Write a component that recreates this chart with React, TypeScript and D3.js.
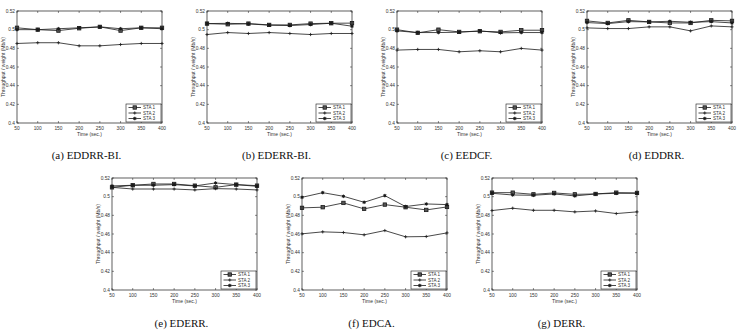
import React from "react";
import * as d3 from "d3";

// Shared axes
const TIMES = [50, 100, 150, 200, 250, 300, 350, 400];
const Y_TICKS = [0.4, 0.42, 0.44, 0.46, 0.48, 0.5, 0.52];
const Y_TICK_LABELS = ["0.4", "0.42", "0.44", "0.46", "0.48", "0.5", "0.52"];
const X_TICK_LABELS = ["50", "100", "150", "200", "250", "300", "350", "400"];
const STATIONS = ["STA 1", "STA 2", "STA 3"];

// Throughput / weight (Mb/s) per scheme
const eddrrBiSta1 = [0.502, 0.5, 0.499, 0.5015, 0.503, 0.499, 0.502, 0.502];
const eddrrBiSta2 = [0.4852, 0.486, 0.486, 0.4827, 0.4827, 0.4841, 0.4852, 0.4852];
const eddrrBiSta3 = [0.5, 0.5, 0.501, 0.502, 0.503, 0.501, 0.502, 0.501];

const ederrBiSta1 = [0.5065, 0.5058, 0.5065, 0.5051, 0.5051, 0.5065, 0.5069, 0.507];
const ederrBiSta2 = [0.4948, 0.4969, 0.4959, 0.4969, 0.4959, 0.4948, 0.4959, 0.4959];
const ederrBiSta3 = [0.5065, 0.5068, 0.5062, 0.5048, 0.5044, 0.5055, 0.5069, 0.5037];

const eedcfSta1 = [0.5, 0.4966, 0.5, 0.4976, 0.4983, 0.4976, 0.4994, 0.4994];
const eedcfSta2 = [0.4781, 0.4788, 0.4788, 0.4763, 0.4774, 0.4763, 0.4799, 0.4781];
const eedcfSta3 = [0.4987, 0.4969, 0.4969, 0.4973, 0.4987, 0.4966, 0.4969, 0.4969];

const eddrrSta1 = [0.5094, 0.5072, 0.51, 0.5083, 0.5072, 0.5072, 0.51, 0.5094];
const eddrrSta2 = [0.5019, 0.5012, 0.5012, 0.503, 0.503, 0.4987, 0.504, 0.503];
const eddrrSta3 = [0.5076, 0.5065, 0.5086, 0.5083, 0.509, 0.5079, 0.5086, 0.5072];

const ederrSta1 = [0.51, 0.5122, 0.5136, 0.5136, 0.5118, 0.51, 0.5129, 0.5118];
const ederrSta2 = [0.51, 0.5082, 0.5082, 0.5082, 0.5072, 0.5086, 0.5082, 0.5072];
const ederrSta3 = [0.5115, 0.5122, 0.5122, 0.5129, 0.5115, 0.5147, 0.5129, 0.5111];

const edcaSta1 = [0.488, 0.4887, 0.4933, 0.4869, 0.4915, 0.4887, 0.4858, 0.489];
const edcaSta2 = [0.4602, 0.4623, 0.4616, 0.4591, 0.4637, 0.457, 0.4573, 0.4612];
const edcaSta3 = [0.4993, 0.5043, 0.5004, 0.494, 0.5011, 0.4894, 0.4922, 0.4915];

const derrSta1 = [0.5043, 0.5043, 0.5025, 0.504, 0.5025, 0.5029, 0.5043, 0.504];
const derrSta2 = [0.4851, 0.4876, 0.4854, 0.4854, 0.4837, 0.4847, 0.4819, 0.4837];
const derrSta3 = [0.5036, 0.5018, 0.5015, 0.5029, 0.5008, 0.5029, 0.5036, 0.5036];

const CAPTIONS = [
  "(a) EDDRR-BI.",
  "(b) EDERR-BI.",
  "(c) EEDCF.",
  "(d) EDDRR.",
  "(e) EDERR.",
  "(f) EDCA.",
  "(g) DERR.",
];

const panels = [
  { caption: CAPTIONS[0], series: [eddrrBiSta1, eddrrBiSta2, eddrrBiSta3], left: 17, top: 11 },
  { caption: CAPTIONS[1], series: [ederrBiSta1, ederrBiSta2, ederrBiSta3], left: 207, top: 11 },
  { caption: CAPTIONS[2], series: [eedcfSta1, eedcfSta2, eedcfSta3], left: 397, top: 11 },
  { caption: CAPTIONS[3], series: [eddrrSta1, eddrrSta2, eddrrSta3], left: 587, top: 11 },
  { caption: CAPTIONS[4], series: [ederrSta1, ederrSta2, ederrSta3], left: 112, top: 178 },
  { caption: CAPTIONS[5], series: [edcaSta1, edcaSta2, edcaSta3], left: 302, top: 178 },
  { caption: CAPTIONS[6], series: [derrSta1, derrSta2, derrSta3], left: 492, top: 178 },
];

const PW = 145;
const PH = 112;
const INK = "#1a1a1a";
const TICK_FONT = "'Liberation Sans', Arial, sans-serif";

function Marker({ kind, x, y }: { kind: number; x: number; y: number }) {
  if (kind === 0) {
    return <rect x={x - 1.7} y={y - 1.7} width={3.4} height={3.4} fill="#555" stroke={INK} strokeWidth={0.8} />;
  }
  if (kind === 1) {
    return (
      <path
        d={`M${x - 1.6},${y}H${x + 1.6}M${x},${y - 1.6}V${y + 1.6}`}
        stroke={INK}
        strokeWidth={0.8}
        fill="none"
      />
    );
  }
  const sym = d3.symbol().type(d3.symbolAsterisk).size(9)();
  return (
    <g transform={`translate(${x},${y})`}>
      <circle r={1.3} fill={INK} />
      <path d={sym || ""} stroke={INK} strokeWidth={0.8} fill="none" />
    </g>
  );
}

function Panel({ p }: { p: (typeof panels)[number] }) {
  const x = d3.scaleLinear().domain([50, 400]).range([0, PW]);
  const y = d3.scaleLinear().domain([0.4, 0.52]).range([PH, 0]);
  const line = d3
    .line<number>()
    .x((_, i) => x(TIMES[i]))
    .y((d) => y(d));
  const tickLen = 2;
  return (
    <g transform={`translate(${p.left},${p.top})`}>
      <rect x={0} y={0} width={PW} height={PH} fill="#fff" />
      {/* inward ticks on all four sides */}
      {TIMES.map((t) => (
        <g key={"xt" + t}>
          <line x1={x(t)} x2={x(t)} y1={PH} y2={PH - tickLen} stroke={INK} strokeWidth={0.5} />
          <line x1={x(t)} x2={x(t)} y1={0} y2={tickLen} stroke={INK} strokeWidth={0.5} />
        </g>
      ))}
      {Y_TICKS.map((v) => (
        <g key={"yt" + v}>
          <line x1={0} x2={tickLen} y1={y(v)} y2={y(v)} stroke={INK} strokeWidth={0.5} />
          <line x1={PW} x2={PW - tickLen} y1={y(v)} y2={y(v)} stroke={INK} strokeWidth={0.5} />
        </g>
      ))}
      {X_TICK_LABELS.map((lab, i) => (
        <text
          key={"xl" + lab}
          x={x(TIMES[i])}
          y={PH + 6.5}
          fontSize={4.8}
          fontFamily={TICK_FONT}
          fill="#333"
          textAnchor="middle"
        >
          {lab}
        </text>
      ))}
      {Y_TICK_LABELS.map((lab, i) => (
        <text
          key={"yl" + lab}
          x={-2}
          y={y(Y_TICKS[i]) + 1.7}
          fontSize={4.8}
          fontFamily={TICK_FONT}
          fill="#333"
          textAnchor="end"
        >
          {lab}
        </text>
      ))}
      <text x={PW / 2} y={PH + 12.5} fontSize={5} fontFamily={TICK_FONT} fill="#333" textAnchor="middle">
        Time (sec.)
      </text>
      <text
        transform={`translate(${-12.5},${PH / 2}) rotate(-90)`}
        fontSize={5}
        fontFamily={TICK_FONT}
        fill="#333"
        textAnchor="middle"
      >
        Throughput / weight (Mb/s)
      </text>

      {p.series.map((s, k) => (
        <g key={"s" + k}>
          <path d={line(s) || ""} fill="none" stroke={INK} strokeWidth={0.8} />
          {s.map((v, i) => (
            <Marker key={i} kind={k} x={x(TIMES[i])} y={y(v)} />
          ))}
        </g>
      ))}

      {/* legend, lower right */}
      <g transform={`translate(${PW - 36},${PH - 19})`}>
        <rect x={0} y={0} width={35} height={18} fill="#fff" stroke={INK} strokeWidth={0.6} />
        {STATIONS.map((name, k) => {
          const ly = 3.5 + k * 5.5;
          return (
            <g key={name}>
              <line x1={2.5} x2={15} y1={ly} y2={ly} stroke={INK} strokeWidth={0.8} />
              <Marker kind={k} x={8.75} y={ly} />
              <text x={17} y={ly + 1.7} fontSize={4.6} fontFamily={TICK_FONT} fill="#333">
                {name}
              </text>
            </g>
          );
        })}
      </g>

      <rect x={0} y={0} width={PW} height={PH} fill="none" stroke={INK} strokeWidth={0.7} />

      <text
        x={PW / 2 - 3}
        y={p.top < 100 ? 148 : 149}
        fontSize={11}
        fontFamily="'Liberation Serif', 'Times New Roman', serif"
        fill="#111"
        textAnchor="middle"
      >
        {p.caption}
      </text>
    </g>
  );
}

export default function App() {
  return (
    <svg
      width={738}
      height={330}
      viewBox="0 0 738 330"
      style={{ position: "absolute", left: 0, top: 0, background: "#fff" }}
    >
      <rect width={738} height={330} fill="#fff" />
      {panels.map((p) => (
        <Panel key={p.caption} p={p} />
      ))}
    </svg>
  );
}
